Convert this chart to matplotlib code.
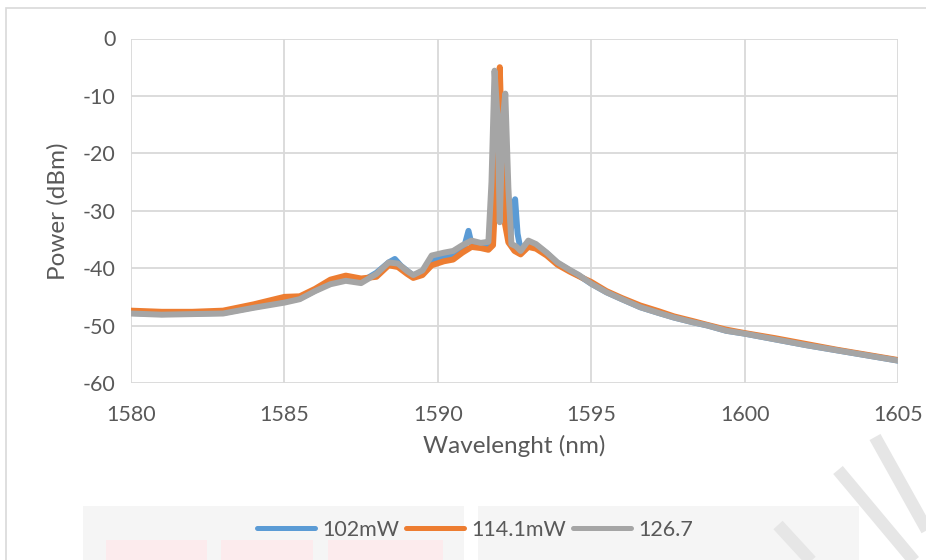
import matplotlib
matplotlib.use('Agg')
import matplotlib.pyplot as plt
import matplotlib.patches as mpatches
import matplotlib.lines as mlines

plt.rcParams['font.family'] = ['Lato', 'DejaVu Sans']
plt.rcParams['axes.unicode_minus'] = False

# Series (wavelength nm, power dBm)
wl_102 = [1580, 1581, 1582, 1583, 1584, 1585, 1585.5, 1586, 1586.5, 1587, 1587.5, 1588,
          1588.4, 1588.6, 1588.8, 1589.2, 1589.5, 1589.8, 1590.2, 1590.5, 1590.85, 1591.0,
          1591.1, 1591.4, 1591.65, 1591.8, 1591.95, 1592.1, 1592.25, 1592.35, 1592.45,
          1592.52, 1592.6, 1592.7, 1592.95, 1593.2, 1593.55, 1593.9, 1594.3, 1594.6, 1595,
          1595.5, 1596, 1596.6, 1597.2, 1597.7, 1598.3, 1598.8, 1599.4, 1600, 1601, 1602,
          1603, 1604, 1605]
p_102 = [-47.8, -48.0, -47.9, -47.8, -46.8, -45.8, -45.3, -43.9, -42.6, -42.0, -42.4, -40.8,
         -39.0, -38.4, -39.6, -41.3, -40.8, -38.6, -37.9, -37.6, -36.5, -33.5,
         -35.8, -36.0, -35.9, -28.0, -8.0, -18.0, -30.0, -35.0, -30.0,
         -28.0, -34.0, -36.8, -35.5, -36.0, -37.4, -39.1, -40.4, -41.3, -42.7,
         -44.2, -45.4, -46.8, -47.8, -48.6, -49.4, -50.0, -50.9, -51.4, -52.4, -53.4,
         -54.3, -55.2, -56.1]

wl_114 = [1580, 1581, 1582, 1583, 1584, 1585, 1585.5, 1586, 1586.5, 1587, 1587.5, 1588,
          1588.4, 1588.7, 1589.0, 1589.2, 1589.5, 1589.8, 1590.2, 1590.5, 1590.8, 1591.1,
          1591.4, 1591.65, 1591.8, 1591.9, 1592.02, 1592.1, 1592.18, 1592.3, 1592.5,
          1592.7, 1592.95, 1593.2, 1593.55, 1593.9, 1594.3, 1594.6, 1595, 1595.5, 1596,
          1596.6, 1597.2, 1597.7, 1598.3, 1598.8, 1599.4, 1600, 1601, 1602, 1603, 1604, 1605]
p_114 = [-47.4, -47.6, -47.6, -47.4, -46.3, -45.0, -44.9, -43.6, -42.0, -41.3, -41.8, -41.5,
         -39.5, -39.8, -41.0, -41.7, -41.2, -39.5, -38.8, -38.5, -37.3, -36.3,
         -36.5, -36.8, -36.0, -25.0, -5.0, -20.0, -32.0, -35.5, -37.0,
         -37.6, -36.3, -36.6, -37.8, -39.4, -40.6, -41.4, -42.4, -44.0, -45.2,
         -46.5, -47.5, -48.4, -49.2, -49.9, -50.7, -51.3, -52.2, -53.2, -54.2, -55.1, -56.0]

wl_126 = [1580, 1581, 1582, 1583, 1584, 1585, 1585.5, 1586, 1586.5, 1587, 1587.5, 1588,
          1588.4, 1588.7, 1589.0, 1589.2, 1589.5, 1589.8, 1590.2, 1590.5, 1590.8, 1591.1,
          1591.4, 1591.65, 1591.75, 1591.85, 1591.95, 1592.02, 1592.12, 1592.2, 1592.3,
          1592.4, 1592.55, 1592.7, 1592.95, 1593.2, 1593.55, 1593.9, 1594.3, 1594.6, 1595,
          1595.5, 1596, 1596.6, 1597.2, 1597.7, 1598.3, 1598.8, 1599.4, 1600, 1601, 1602,
          1603, 1604, 1605]
p_126 = [-47.9, -48.1, -48.0, -47.9, -46.9, -46.0, -45.4, -44.0, -42.8, -42.2, -42.6, -41.0,
         -39.0, -39.2, -40.5, -41.2, -40.4, -37.8, -37.3, -37.0, -36.0, -35.2,
         -35.6, -35.4, -25.0, -5.6, -14.0, -32.0, -14.0, -9.6, -26.0,
         -35.8, -36.2, -37.0, -35.2, -35.8, -37.3, -39.0, -40.3, -41.2, -42.7,
         -44.2, -45.4, -46.8, -47.8, -48.6, -49.4, -50.0, -50.9, -51.4, -52.4, -53.4,
         -54.3, -55.2, -56.1]

labels = ['102mW', '114.1mW', '126.7']
colors = ['#5B9BD5', '#ED7D31', '#A5A5A5']
x_ticks = [1580, 1585, 1590, 1595, 1600, 1605]
y_ticks = [0, -10, -20, -30, -40, -50, -60]

W, H = 926, 560
fig = plt.figure(figsize=(W / 100, H / 100), dpi=100)

def px_rect(x0, y0, x1, y1, **kw):
    # rectangle given in image pixels (top-left origin)
    return mpatches.Rectangle((x0 / W, 1 - y1 / H), (x1 - x0) / W, (y1 - y0) / H,
                              transform=fig.transFigure, **kw)

# faint background marks behind the legend (scan watermark)
fig.patches.append(px_rect(83, 506, 464, 562, color='#f5f5f5', lw=0))
fig.patches.append(px_rect(478, 506, 859, 562, color='#f5f5f5', lw=0))
for a, b in [(106, 207), (221, 313), (328, 443)]:
    fig.patches.append(px_rect(a, 540, b, 562, color='#fcebed', lw=0))
for (xa, ya), (xb, yb) in [((875, 437), (928, 532)), ((838, 470), (915, 562)),
                           ((778, 525), (812, 562))]:
    fig.lines.append(mlines.Line2D([xa / W, xb / W], [1 - ya / H, 1 - yb / H],
                                   transform=fig.transFigure, color='#e6e6e6', lw=9,
                                   solid_capstyle='butt'))

# chart frame
fig.patches.append(px_rect(5.5, 8, 1000, 700, fill=False, edgecolor='#d9d9d9', lw=1.2))

ax = fig.add_axes([131 / W, 1 - 383 / H, 767 / W, 344.5 / H])
ax.patch.set_alpha(0)

for wl, p, c, lab in zip([wl_102, wl_114, wl_126], [p_102, p_114, p_126], colors, labels):
    ax.plot(wl, p, color=c, lw=4.3, label=lab, solid_joinstyle='round', solid_capstyle='round')

ax.set_xlim(1580, 1605)
ax.set_ylim(-60, 0)
ax.set_xticks(x_ticks)
ax.set_yticks(y_ticks)
ax.grid(True, color='#d9d9d9', lw=1.3)
ax.set_axisbelow(True)
for s in ax.spines.values():
    s.set_visible(False)
ax.tick_params(length=0, labelsize=15.5, labelcolor='#595959')
ax.tick_params(axis='x', pad=16)
ax.tick_params(axis='y', pad=11)
ax.set_xlabel('Wavelenght (nm)', fontsize=17.5, color='#595959', labelpad=7)
ax.set_ylabel('Power (dBm)', fontsize=17.5, color='#595959', labelpad=10)

leg = fig.legend(loc='center', bbox_to_anchor=(475 / W, 1 - 530 / H), ncol=3, frameon=False,
                 fontsize=15.5, handlelength=2.7, handletextpad=0.35, columnspacing=0.3,
                 labelcolor='#595959')
for line in leg.get_lines():
    line.set_linewidth(3.6)

fig.savefig('out.png', dpi=100)
